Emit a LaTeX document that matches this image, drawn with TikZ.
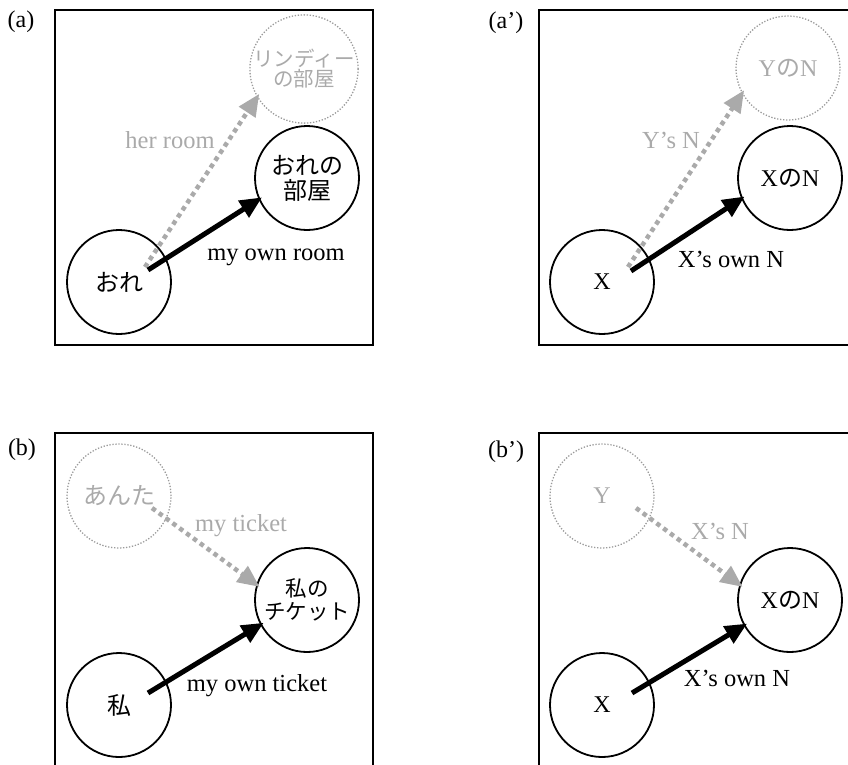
\documentclass[tikz,border=0pt]{standalone}
\usepackage{fontspec}
\setmainfont{Liberation Serif}
\newfontfamily\jp{Noto Sans CJK JP}
\usetikzlibrary{arrows.meta,calc}

\definecolor{faint}{RGB}{170,170,170}
\definecolor{faintline}{RGB}{155,155,155}

\tikzset{
  panel/.style={draw=black, line width=2pt},
  tag/.style={font=\fontsize{24}{26}\selectfont, inner sep=0pt},
  ent/.style={circle, draw=black, line width=1.8pt, minimum size=104pt, inner sep=0pt,
              align=center, font=\fontsize{24}{25}\selectfont},
  ghost/.style={circle, draw=faintline, line width=1.3pt, dash pattern=on 1.3pt off 1.7pt,
              minimum size=104pt, inner sep=0pt, align=center, text=faint,
              font=\fontsize{24}{25}\selectfont},
  own/.style={line width=5pt, -{Triangle[length=22pt,width=19pt]}, shorten >=-4pt},
  other/.style={draw=faint, line width=4.5pt, dash pattern=on 4.5pt off 4pt,
              -{Triangle[length=22pt,width=19pt,fill=faint,color=faint]}, shorten >=-4pt},
  lbl/.style={font=\fontsize{24.5}{26}\selectfont, inner sep=0pt},
  glbl/.style={lbl, text=faint},
}

\begin{document}
\begin{tikzpicture}[x=1pt,y=-1pt]
\path[use as bounding box, clip] (0,0) rectangle (848,764);

% ---------- (a) ----------
\node[tag] (la) at (21,22) {(a)};
\draw[panel] (55,10) rectangle (373,345);
\node[ghost, font=\fontsize{20.5}{22}\selectfont] (a3) at (304,69) {\jp リンディー\\[-2pt]\jp の部屋};
\node[ent] (a2) at (307,178) {\jp おれの\\\jp 部屋};
\node[ent] (a1) at (119,282) {\jp おれ};
\coordinate (a1g) at ($(a1)+(26,-15)$);
\coordinate (a1b) at ($(a1)+(29,-12)$);
\draw[other] (a1g) -- (a3.211);
\draw[own] (a1b) -- (a2.204);
\node[glbl] (ha) at (170,140) {her room};
\node[lbl] (ma) at (276,257) {my own room};

% ---------- (a') ----------
\node[tag] (lap) at (506,23) {(a’)};
\draw[panel] (539,10) rectangle (857,345);
\node[ghost] (ap3) at (788,68) {Y{\jp の}N};
\node[ent] (ap2) at (790,178) {X{\jp の}N};
\node[ent] (ap1) at (602,282) {X};
\coordinate (ap1g) at ($(ap1)+(26,-15)$);
\coordinate (ap1b) at ($(ap1)+(29,-11)$);
\draw[other] (ap1g) -- (ap3.209);
\draw[own] (ap1b) -- (ap2.203);
\node[glbl] (hap) at (671,140) {Y’s N};
\node[lbl] (map) at (731,259) {X’s own N};

% ---------- (b) ----------
\node[tag] (lb) at (22,450) {(b)};
\draw[panel] (55,433) rectangle (373,790);
\node[ghost] (b3) at (119,496) {\jp あんた};
\node[ent, font=\fontsize{21.5}{23}\selectfont] (b2) at (307,600) {\jp 私の\\\jp チケット};
\node[ent] (b1) at (119,705) {\jp 私};
\coordinate (b3g) at ($(b3)+(33,12)$);
\coordinate (b1b) at ($(b1)+(29,-12)$);
\draw[other] (b3g) -- (b2.163);
\draw[own] (b1b) -- (b2.208);
\node[glbl] (hb) at (241,526) {my ticket};
\node[lbl] (mb) at (257,686) {my own ticket};

% ---------- (b') ----------
\node[tag] (lbp) at (506,452) {(b’)};
\draw[panel] (539,433) rectangle (857,790);
\node[ghost] (bp3) at (602,496) {Y};
\node[ent] (bp2) at (790,600) {X{\jp の}N};
\node[ent] (bp1) at (602,705) {X};
\coordinate (bp3g) at ($(bp3)+(34,12)$);
\coordinate (bp1b) at ($(bp1)+(30,-12)$);
\draw[other] (bp3g) -- (bp2.163);
\draw[own] (bp1b) -- (bp2.209);
\node[glbl] (hbp) at (720,531) {X’s N};
\node[lbl] (mbp) at (737,678) {X’s own N};
\end{tikzpicture}
\end{document}
